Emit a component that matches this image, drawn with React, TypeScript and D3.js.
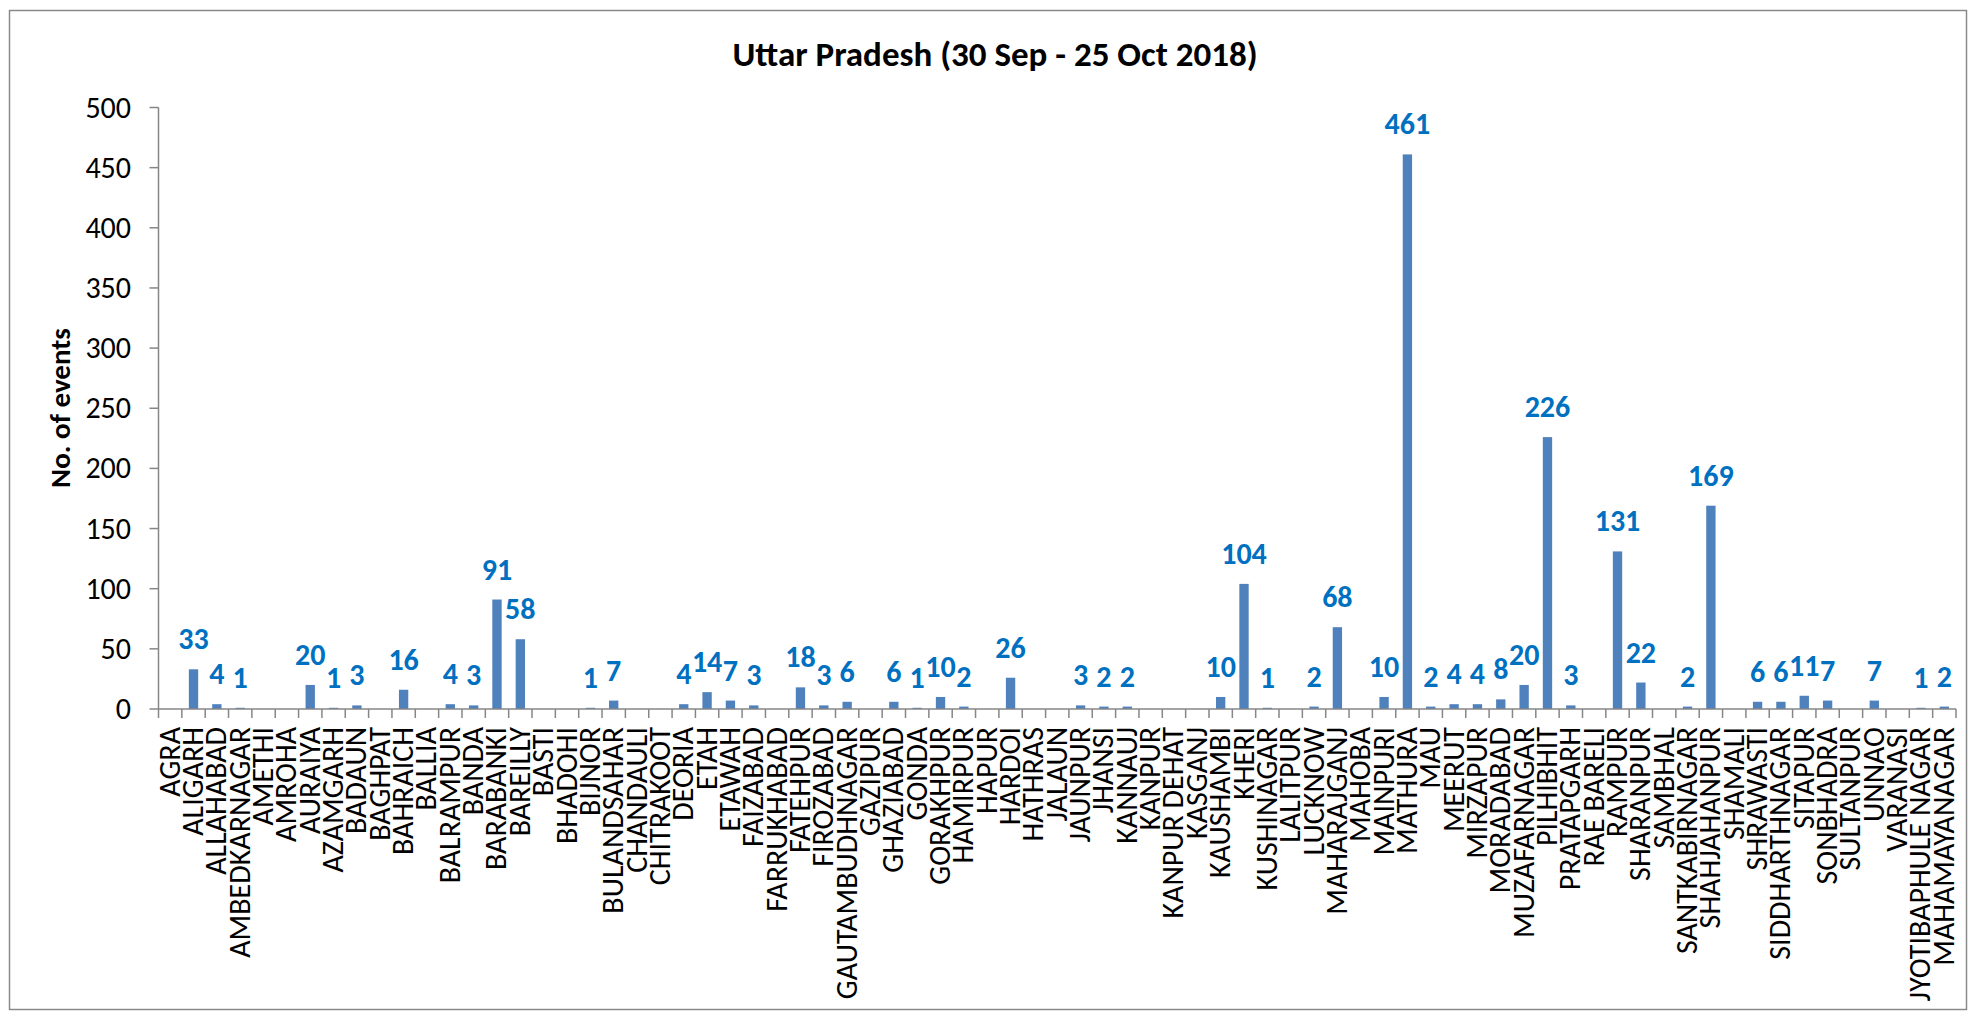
import * as d3 from "d3";

const districts = [
  "AGRA", "ALIGARH", "ALLAHABAD", "AMBEDKARNAGAR", "AMETHI", "AMROHA", "AURAIYA",
  "AZAMGARH", "BADAUN", "BAGHPAT", "BAHRAICH", "BALLIA", "BALRAMPUR", "BANDA",
  "BARABANKI", "BAREILLY", "BASTI", "BHADOHI", "BIJNOR", "BULANDSAHAR", "CHANDAULI",
  "CHITRAKOOT", "DEORIA", "ETAH", "ETAWAH", "FAIZABAD", "FARRUKHABAD", "FATEHPUR",
  "FIROZABAD", "GAUTAMBUDHNAGAR", "GAZIPUR", "GHAZIABAD", "GONDA", "GORAKHPUR",
  "HAMIRPUR", "HAPUR", "HARDOI", "HATHRAS", "JALAUN", "JAUNPUR", "JHANSI", "KANNAUJ",
  "KANPUR", "KANPUR DEHAT", "KASGANJ", "KAUSHAMBI", "KHERI", "KUSHINAGAR", "LALITPUR",
  "LUCKNOW", "MAHARAJGANJ", "MAHOBA", "MAINPURI", "MATHURA", "MAU", "MEERUT",
  "MIRZAPUR", "MORADABAD", "MUZAFARNAGAR", "PILHIBHIT", "PRATAPGARH", "RAE BARELI",
  "RAMPUR", "SHARANPUR", "SAMBHAL", "SANTKABIRNAGAR", "SHAHJAHANPUR", "SHAMALI",
  "SHRAWASTI", "SIDDHARTHNAGAR", "SITAPUR", "SONBHADRA", "SULTANPUR", "UNNAO",
  "VARANASI", "JYOTIBAPHULE NAGAR", "MAHAMAYANAGAR",
];

const events = [
  0, 33, 4, 1, 0, 0, 20,
  1, 3, 0, 16, 0, 4, 3,
  91, 58, 0, 0, 1, 7, 0,
  0, 4, 14, 7, 3, 0, 18,
  3, 6, 0, 6, 1, 10,
  2, 0, 26, 0, 0, 3, 2, 2,
  0, 0, 0, 10, 104, 1, 0,
  2, 68, 0, 10, 461, 2, 4,
  4, 8, 20, 226, 3, 0,
  131, 22, 0, 2, 169, 0,
  6, 6, 11, 7, 0, 7,
  0, 1, 2,
];

const yTicks = [0, 50, 100, 150, 200, 250, 300, 350, 400, 450, 500];

const title = "Uttar Pradesh (30 Sep - 25 Oct 2018)";
const yTitle = "No. of events";

const W = 1970;
const H = 1011;
const FONT = "Carlito, Calibri, Lato, sans-serif";

export default function App() {
  const left = 158.5;
  const right = 1956;
  const top = 107.5;
  const bottom = 709;

  const x = d3.scaleBand().domain(districts).range([left, right]).padding(0);
  const y = d3.scaleLinear().domain([0, 500]).range([bottom, top]);
  const bw = x.bandwidth();
  const barW = bw / 2.5; // excel gap width 150%

  const axisColor = "#868686";
  const edges = districts.map((d) => x(d)).concat([right]);

  return (
    <svg
      width={W}
      height={H}
      style={{ position: "absolute", left: 0, top: 0, background: "#fff" }}
      fontFamily={FONT}
    >
      <rect x={9.5} y={10.5} width={1957} height={999} fill="#fff" stroke="#8a8a8a" strokeWidth={1.5} />

      <text x={995} y={66} textAnchor="middle" fontSize={35} fontWeight="bold" fill="#000">
        {title}
      </text>

      {/* y axis */}
      <line x1={left} x2={left} y1={top} y2={bottom} stroke={axisColor} strokeWidth={1.5} />
      {yTicks.map((t) => (
        <g key={t}>
          <line x1={left - 9} x2={left} y1={y(t)} y2={y(t)} stroke={axisColor} strokeWidth={1.5} />
          <text x={131} y={y(t) + 10} textAnchor="end" fontSize={30} fill="#000">
            {t}
          </text>
        </g>
      ))}
      <text
        transform={`translate(70,408) rotate(-90)`}
        textAnchor="middle"
        fontSize={29}
        fontWeight="bold"
        fill="#000"
      >
        {yTitle}
      </text>

      {/* bars */}
      {districts.map((d, i) => (
        <rect
          key={d}
          x={(x(d) as number) + (bw - barW) / 2}
          y={y(events[i])}
          width={barW}
          height={bottom - y(events[i])}
          fill="#4F81BD"
        />
      ))}

      {/* x axis */}
      <line x1={left} x2={right} y1={bottom} y2={bottom} stroke={axisColor} strokeWidth={1.5} />
      {edges.map((e, i) => (
        <line key={i} x1={e} x2={e} y1={bottom} y2={bottom + 9} stroke={axisColor} strokeWidth={1.5} />
      ))}
      {districts.map((d) => (
        <text
          key={d}
          transform={`translate(${(x(d) as number) + bw / 2 + 9.5},727) rotate(-90)`}
          textAnchor="end"
          fontSize={30}
          fill="#000"
        >
          {d}
        </text>
      ))}

      {/* data labels */}
      {districts.map((d, i) =>
        events[i] > 0 ? (
          <text
            key={d}
            x={(x(d) as number) + bw / 2}
            y={y(events[i]) - 20}
            textAnchor="middle"
            fontSize={30}
            fontWeight="bold"
            fill="#0070C0"
          >
            {events[i]}
          </text>
        ) : null
      )}
    </svg>
  );
}
